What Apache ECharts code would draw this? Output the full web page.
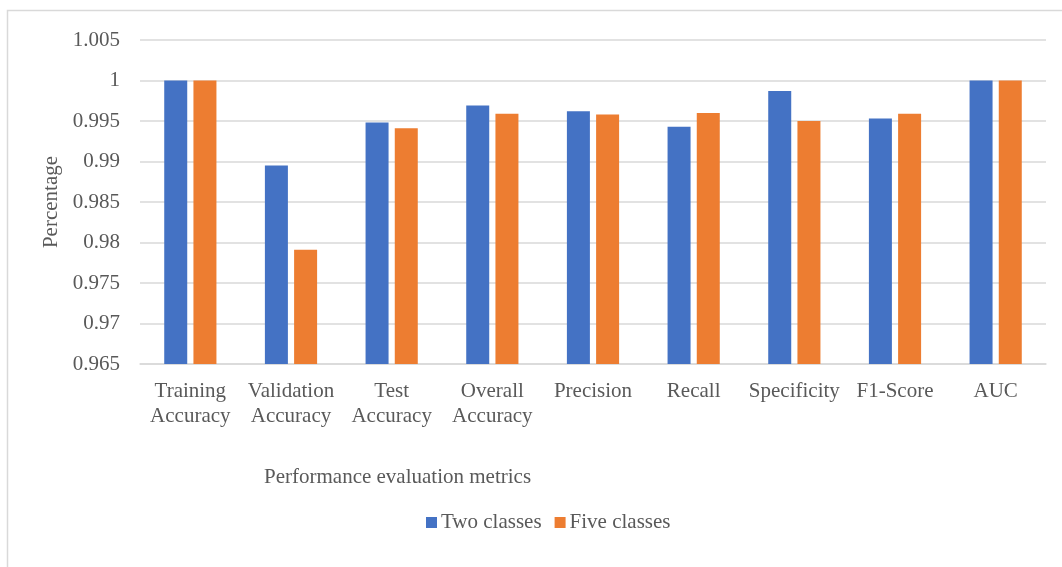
<!DOCTYPE html>
<html>
<head>
<meta charset="utf-8">
<script src="https://cdn.jsdelivr.net/npm/echarts@6/dist/echarts.min.js"></script>
<style>
  html, body { margin: 0; padding: 0; background: #ffffff; }
  #chart { width: 1062px; height: 567px; }
</style>
</head>
<body>
<div id="chart"></div>
<script>
// Metric names (x axis)
const categories = [
  'Training\nAccuracy', 'Validation\nAccuracy', 'Test\nAccuracy', 'Overall\nAccuracy',
  'Precision', 'Recall', 'Specificity', 'F1-Score', 'AUC'
];
// Scores per classification setting
const twoClasses  = [1.0, 0.9895, 0.9948, 0.9969, 0.9962, 0.9943, 0.9987, 0.9953, 1.0];
const fiveClasses = [1.0, 0.9791, 0.9941, 0.9959, 0.9958, 0.9960, 0.9950, 0.9959, 1.0];
// Value axis range and step
const yMin = 0.965;
const yMax = 1.005;
const yStep = 0.005;

const FONT = '"Liberation Serif", "Times New Roman", serif';
const TEXT = '#595959';
const SIZE = 21;

const chart = echarts.init(document.getElementById('chart'), null, { renderer: 'canvas' });

chart.setOption({
  animation: false,
  backgroundColor: '#ffffff',
  textStyle: { fontFamily: FONT, color: TEXT },
  grid: { left: 140, right: 16, top: 40, bottom: 203, containLabel: false },
  legend: {
    left: 421,
    top: 507,
    itemWidth: 11,
    itemHeight: 11,
    itemGap: 13,
    icon: 'rect',
    textStyle: { fontFamily: FONT, fontSize: SIZE, color: TEXT, padding: [0, 0, 0, -1] },
    data: ['Two classes', 'Five classes']
  },
  xAxis: {
    type: 'category',
    data: categories,
    axisLine: { lineStyle: { color: '#d9d9d9', width: 1.5 } },
    axisTick: { show: false },
    axisLabel: {
      interval: 0,
      margin: 15,
      fontFamily: FONT,
      fontSize: SIZE,
      lineHeight: 25,
      color: TEXT
    }
  },
  yAxis: {
    type: 'value',
    min: yMin,
    max: yMax,
    interval: yStep,
    name: 'Percentage',
    nameLocation: 'middle',
    nameGap: 73,
    nameTextStyle: { fontFamily: FONT, fontSize: SIZE, color: TEXT },
    axisLine: { show: false },
    axisTick: { show: false },
    splitLine: { lineStyle: { color: '#d9d9d9', width: 1.5 } },
    axisLabel: {
      margin: 20,
      fontFamily: FONT,
      fontSize: SIZE,
      color: TEXT,
      formatter: v => String(+v.toFixed(3))
    }
  },
  series: [
    {
      name: 'Two classes',
      type: 'bar',
      data: twoClasses,
      barWidth: 23,
      barGap: '27%',
      itemStyle: { color: '#4472C4' }
    },
    {
      name: 'Five classes',
      type: 'bar',
      data: fiveClasses,
      barWidth: 23,
      barGap: '27%',
      itemStyle: { color: '#ED7D31' }
    }
  ],
  graphic: [
    {
      type: 'rect',
      silent: true,
      shape: { x: 7.5, y: 10.5, width: 1200, height: 700 },
      style: { fill: 'none', stroke: '#d9d9d9', lineWidth: 1.5 }
    },
    {
      type: 'text',
      left: 264,
      top: 467,
      style: {
        text: 'Performance evaluation metrics',
        font: SIZE + 'px ' + FONT,
        fill: TEXT
      }
    }
  ]
});
</script>
</body>
</html>
